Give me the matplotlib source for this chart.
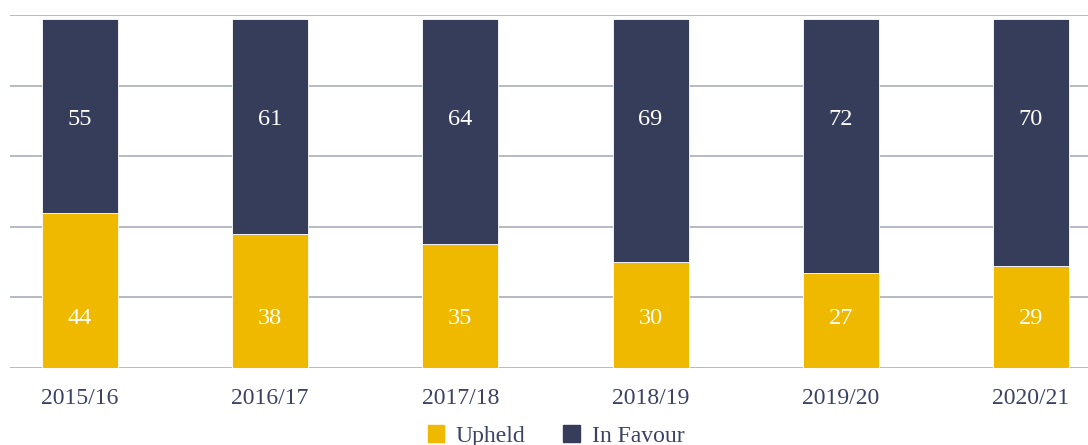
import numpy as np
import matplotlib.pyplot as plt
from matplotlib.patches import Patch

years = ['2015/16', '2016/17', '2017/18', '2018/19', '2019/20', '2020/21']
upheld = [44, 38, 35, 30, 27, 29]
in_favour = [55, 61, 64, 69, 72, 70]

yellow = '#EFB900'
navy = '#363D5A'
text_col = '#3B4262'

plt.rcParams['font.family'] = ['Liberation Serif', 'DejaVu Serif']

fig = plt.figure(figsize=(10.88, 4.45), dpi=100)
ax = fig.add_axes([10/1088, 77/445, 1078/1088, 353/445])

x = np.arange(len(years))
w = 0.4
ax.bar(x, upheld, width=w, color=yellow, edgecolor='white', linewidth=0.6, zorder=3)
ax.bar(x, in_favour, width=w, bottom=upheld, color=navy, edgecolor='white', linewidth=0.6, zorder=3)

for i in range(len(years)):
    ax.text(x[i], 14, str(upheld[i]), ha='center', va='center', color='white', fontsize=17.5, zorder=4)
    ax.text(x[i], 70.5, str(in_favour[i]), ha='center', va='center', color='white', fontsize=17.5, zorder=4)

ax.set_ylim(0, 100)
ax.set_xlim(-0.368, 5.30)
ax.set_yticks(np.arange(0, 101, 20))
ax.yaxis.grid(True, color='#A9AEB9', linewidth=1.2, zorder=0)
ax.tick_params(axis='y', left=False, labelleft=False)
ax.tick_params(axis='x', bottom=False, labelsize=17, labelcolor=text_col, pad=11)
ax.set_xticks(x)
ax.set_xticklabels(years)
for s in ax.spines.values():
    s.set_visible(False)

handles = [Patch(color=yellow, label='Upheld'), Patch(color=navy, label='In Favour')]
fig.legend(handles=handles, loc='center', bbox_to_anchor=(556/1088, 1 - 436/445), ncol=2,
           frameon=False, fontsize=17, labelcolor=text_col, handlelength=0.7, handleheight=0.7,
           handletextpad=0.5, columnspacing=1.6)

fig.savefig('out.png', dpi=100)
